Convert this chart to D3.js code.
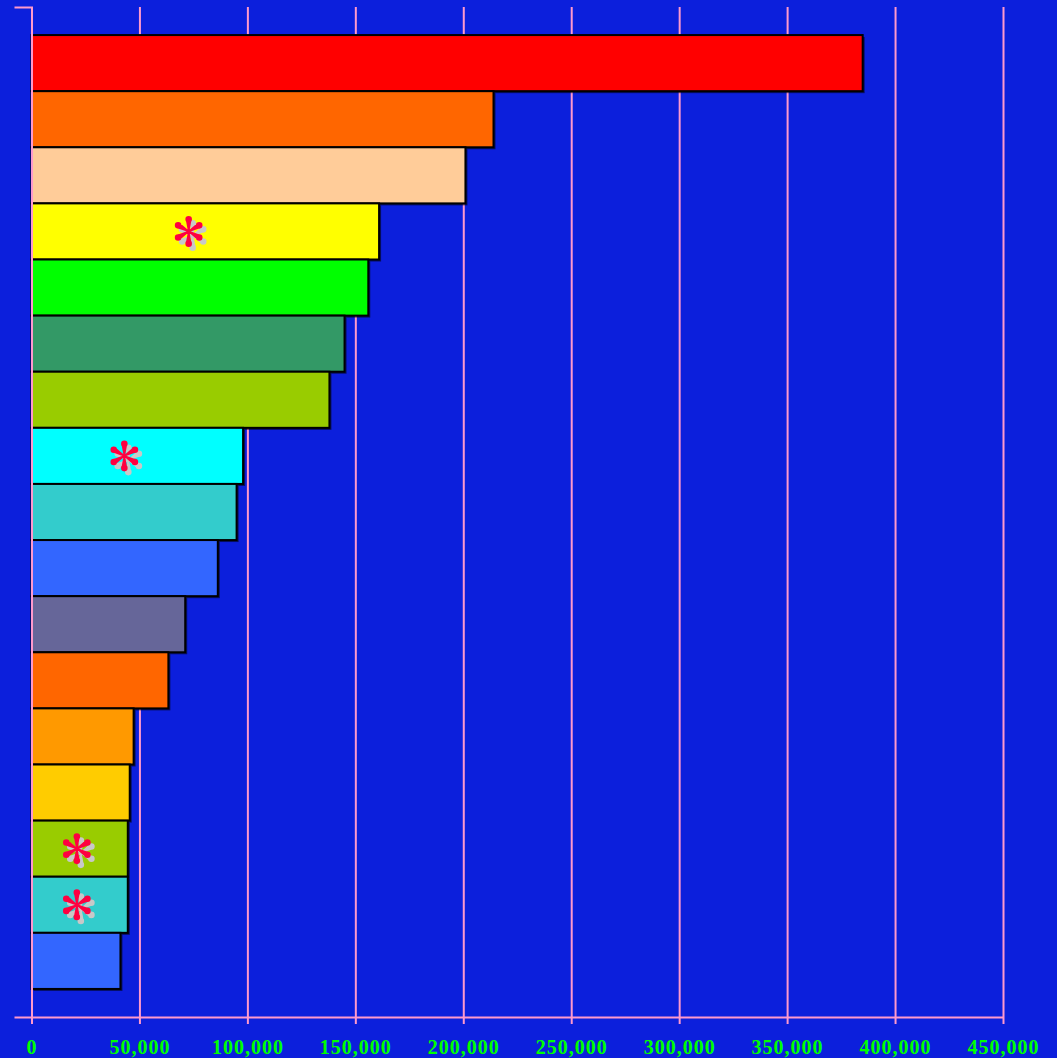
<!DOCTYPE html>
<html>
<head>
<meta charset="utf-8">
<script src="https://cdn.jsdelivr.net/npm/d3@7"></script>
<style>
  html, body { margin: 0; padding: 0; background: #0c1fdc; }
  svg { display: block; }
</style>
</head>
<body>
<div id="chart"></div>
<script>
// data
var categories = ["c1", "c2", "c3", "c4", "c5", "c6", "c7", "c8", "c9",
                  "c10", "c11", "c12", "c13", "c14", "c15", "c16", "c17"];
var values = [385000, 214000, 201000, 161000, 156000, 145000, 138000, 98000, 95000,
              86300, 71200, 63400, 47300, 45500, 44600, 44600, 41200];
var barColors = ["#ff0000", "#ff6600", "#ffcc99", "#ffff00", "#00ff00", "#339966",
                 "#99cc00", "#00ffff", "#33cccc", "#3366ff", "#666699", "#ff6600",
                 "#ff9900", "#ffcc00", "#99cc00", "#33cccc", "#3366ff"];
var markerCats = ["c4", "c8", "c15", "c16"];
var markerValues = [72800, 43000, 21000, 21000];
var xTicks = [0, 50000, 100000, 150000, 200000, 250000, 300000, 350000, 400000, 450000];

var svgWidth = 1057;
var svgHeight = 1058;

var plotLeft = 31.5, plotRight = 1003, plotTop = 7, plotBottom = 1017;

var svg = d3.select("#chart")
  .append("svg")
  .attr("width", svgWidth)
  .attr("height", svgHeight);

svg.append("rect")
  .attr("width", svgWidth)
  .attr("height", svgHeight)
  .attr("fill", "#0c1fdc");

var x = d3.scaleLinear()
  .domain([0, 450000])
  .range([plotLeft, plotRight]);

var y = d3.scaleBand()
  .domain(categories)
  .range([plotTop, plotBottom])
  .paddingInner(0)
  .paddingOuter(0.5);

var gridColor = "#ff99cc";

// gridlines
var grid = svg.append("g")
  .attr("transform", `translate(0, ${plotBottom})`)
  .call(d3.axisBottom(x).tickValues(xTicks).tickSize(-(plotBottom - plotTop)).tickFormat(""));
grid.select(".domain").remove();
grid.selectAll("line").attr("stroke", gridColor).attr("stroke-width", 2);

// bar shadows
svg.append("g").selectAll("rect")
  .data(values)
  .enter()
  .append("rect")
  .attr("x", x(0) + 2)
  .attr("y", (d, i) => y(categories[i]) + 2)
  .attr("width", d => x(d) - x(0))
  .attr("height", y.bandwidth())
  .attr("fill", "#000")
  .attr("opacity", 0.55);

// bars
svg.append("g").selectAll("rect")
  .data(values)
  .enter()
  .append("rect")
  .attr("x", x(0))
  .attr("y", (d, i) => y(categories[i]))
  .attr("width", d => x(d) - x(0))
  .attr("height", y.bandwidth())
  .attr("fill", (d, i) => barColors[i])
  .attr("stroke", "#000")
  .attr("stroke-width", 2);

// x axis
var xAxis = svg.append("g")
  .attr("transform", `translate(0, ${plotBottom})`)
  .call(d3.axisBottom(x).tickValues(xTicks).tickSizeInner(7).tickSizeOuter(0)
    .tickFormat(d3.format(",")));
xAxis.select(".domain").attr("stroke", gridColor).attr("stroke-width", 2);
xAxis.selectAll("line").attr("stroke", gridColor).attr("stroke-width", 2);
xAxis.selectAll("text")
  .attr("y", 37)
  .attr("dy", 0)
  .attr("fill", "#00ff00")
  .attr("font-family", "'Liberation Serif', 'Times New Roman', serif")
  .attr("font-weight", "bold")
  .attr("font-size", "20px")
  .attr("letter-spacing", "1px");

// y axis
var yAxis = svg.append("g")
  .attr("transform", `translate(${plotLeft}, 0)`)
  .call(d3.axisLeft(y).tickSizeInner(0).tickSizeOuter(17).tickFormat(""));
yAxis.selectAll(".tick").remove();
yAxis.select(".domain").attr("stroke", gridColor).attr("stroke-width", 2);

// asterisk markers: six teardrop arms
function asteriskPath(len, bulb) {
  var p = "";
  for (var k = 0; k < 6; k++) {
    var a = (k * 60 - 90) * Math.PI / 180;
    var dx = Math.cos(a), dy = Math.sin(a);
    var px = -dy, py = dx;
    var c = len - bulb;
    var w = 0.7;
    var bx = c * dx, by = c * dy;
    // thin wedge from centre to bulb
    p += `M${w * px},${w * py}` +
         `L${bx + bulb * 0.9 * px},${by + bulb * 0.9 * py}` +
         `L${bx - bulb * 0.9 * px},${by - bulb * 0.9 * py}` +
         `L${-w * px},${-w * py}Z`;
    // round bulb at the tip
    p += `M${bx - bulb},${by}` +
         `a${bulb},${bulb} 0 1,0 ${2 * bulb},0` +
         `a${bulb},${bulb} 0 1,0 ${-2 * bulb},0Z`;
  }
  return p;
}
var star = asteriskPath(15.5, 3.3);

var markers = svg.append("g").selectAll("g")
  .data(markerValues)
  .enter()
  .append("g")
  .attr("transform", (d, i) => `translate(${x(d)}, ${y(markerCats[i]) + y.bandwidth() / 2})`);

markers.append("path")
  .attr("d", star)
  .attr("transform", "translate(4, 4)")
  .attr("fill", "#c8c8c8");

markers.append("path")
  .attr("d", star)
  .attr("fill", "#ff0040");
</script>
</body>
</html>
